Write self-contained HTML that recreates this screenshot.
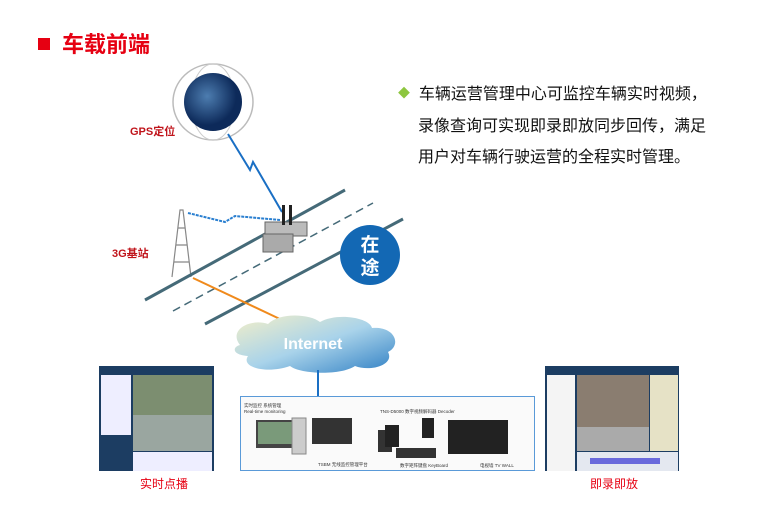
<!DOCTYPE html>
<html><head><meta charset="utf-8"><style>
body{margin:0;width:763px;height:513px;background:#fff;position:relative;overflow:hidden;font-family:"Liberation Sans","Noto Sans CJK SC",sans-serif}
.a{position:absolute}
</style></head><body>
<div class="a" style="left:38px;top:38px;width:12px;height:12px;background:#e60012"></div>
<div class="a" style="left:62px;top:30px;font-size:22px;font-weight:bold;color:#e60012;line-height:30px">车载前端</div>
<div class="a" style="left:398px;top:79px;color:#111;font-size:16px;line-height:31px">
<div><span style="color:#8dc63f;font-size:12px;position:relative;top:-2px">◆</span>&nbsp; 车辆运营管理中心可监控车辆实时视频，</div>
<div style="padding-left:20px">录像查询可实现即录即放同步回传，满足</div>
<div style="padding-left:20px">用户对车辆行驶运营的全程实时管理。</div>
</div>
<svg class="a" style="left:0;top:0" width="763" height="513">
<defs><radialGradient id="g" cx="40%" cy="40%"><stop offset="0" stop-color="#4d7db0"/><stop offset="1" stop-color="#0d2a5a"/></radialGradient>
<linearGradient id="c" x1="0" y1="0" x2="1" y2="1"><stop offset="0" stop-color="#f3efc8"/><stop offset=".5" stop-color="#a9d3ea"/><stop offset="1" stop-color="#2f7fc4"/></linearGradient></defs>
<ellipse cx="213" cy="102" rx="40" ry="38" fill="none" stroke="#bbb" stroke-width="1.5"/>
<ellipse cx="213" cy="102" rx="22" ry="38" fill="none" stroke="#ccc"/>
<circle cx="213" cy="102" r="29" fill="url(#g)"/>
<polyline points="228,134 250,170 253,162 282,212" fill="none" stroke="#1a6fc4" stroke-width="2"/>
<polyline points="188,213 225,222 235,216 280,220" fill="none" stroke="#2a7fd0" stroke-width="2" stroke-dasharray="3,1"/>
<g stroke="#888" fill="none" stroke-width="1.2"><path d="M172,277 L180,210 L183,210 L191,277 M174,262 L189,262 M176,245 L187,245 M178,228 L185,228"/></g>
<line x1="145" y1="300" x2="345" y2="190" stroke="#456a78" stroke-width="3"/>
<line x1="173" y1="311" x2="373" y2="203" stroke="#456a78" stroke-width="1.5" stroke-dasharray="8,5"/>
<line x1="205" y1="324" x2="403" y2="219" stroke="#456a78" stroke-width="3"/>
<line x1="193" y1="278" x2="282" y2="320" stroke="#f08a1c" stroke-width="2"/>
<g><rect x="265" y="222" width="42" height="14" fill="#bbb" stroke="#666"/><rect x="263" y="234" width="30" height="18" fill="#aaa" stroke="#666"/><rect x="282" y="205" width="3" height="20" fill="#222"/><rect x="289" y="205" width="3" height="20" fill="#222"/></g>
<circle cx="370" cy="255" r="30" fill="#1368b4"/>
<text x="370" y="251" fill="#fff" font-size="19" font-weight="bold" text-anchor="middle" font-family="Noto Sans CJK SC">在</text>
<text x="370" y="274" fill="#fff" font-size="19" font-weight="bold" text-anchor="middle" font-family="Noto Sans CJK SC">途</text>
<text x="130" y="135" fill="#c0141b" font-size="11" font-weight="bold" font-family="Liberation Sans,Noto Sans CJK SC">GPS定位</text>
<text x="112" y="257" fill="#c0141b" font-size="11" font-weight="bold" font-family="Liberation Sans,Noto Sans CJK SC">3G基站</text>
<path d="M240,345 C228,330 250,318 268,324 C280,312 310,314 320,322 C338,312 370,318 372,328 C395,326 402,345 388,352 C395,365 370,372 355,366 C340,376 300,374 290,366 C268,374 240,368 248,356 C232,355 232,347 240,345Z" fill="url(#c)"/>
<text x="313" y="349" fill="#fff" font-size="16" font-weight="bold" text-anchor="middle">Internet</text>
<line x1="318" y1="370" x2="318" y2="396" stroke="#1a6fc4" stroke-width="2"/>
<rect x="240.5" y="396.5" width="294" height="74" fill="#fafafa" stroke="#5a9ad8"/>
<rect x="256" y="420" width="38" height="28" fill="#444"/><rect x="258" y="422" width="34" height="22" fill="#7a9a7a"/>
<rect x="292" y="418" width="14" height="36" fill="#ccc" stroke="#888"/>
<rect x="312" y="418" width="40" height="26" fill="#333"/>
<rect x="378" y="430" width="14" height="22" fill="#333"/><rect x="385" y="425" width="14" height="22" fill="#222"/>
<rect x="422" y="418" width="12" height="20" fill="#222"/>
<rect x="396" y="448" width="40" height="10" fill="#333"/>
<rect x="448" y="420" width="60" height="34" fill="#222"/>
<text x="244" y="407" font-size="4.5" fill="#333">实时监控 系统管理</text>
<text x="244" y="413" font-size="4.5" fill="#333">Real-time monitoring</text>
<text x="380" y="413" font-size="4.5" fill="#333">TNS-D5000 数字视频解码器 Decoder</text>
<text x="318" y="466" font-size="4.5" fill="#333">TSBM 无线监控管理平台</text>
<text x="400" y="467" font-size="4.5" fill="#333">数字矩阵键盘 KeyBoard</text>
<text x="480" y="467" font-size="4.5" fill="#333">电视墙 TV WALL</text>
<rect x="99" y="366" width="115" height="105" fill="#1c3d62"/>
<rect x="101" y="375" width="30" height="60" fill="#eef"/>
<rect x="133" y="375" width="79" height="40" fill="#7c8e70"/><rect x="133" y="415" width="79" height="36" fill="#9aa6a0"/>
<rect x="133" y="452" width="79" height="19" fill="#eef"/>
<rect x="545" y="366" width="134" height="105" fill="#1c3d62"/>
<rect x="547" y="375" width="28" height="96" fill="#f4f4f4"/>
<rect x="577" y="375" width="72" height="52" fill="#8a7d70"/><rect x="577" y="427" width="72" height="24" fill="#aaa"/>
<rect x="650" y="375" width="28" height="76" fill="#e6e2c6"/>
<rect x="577" y="452" width="101" height="19" fill="#e4e8f0"/>
<rect x="590" y="458" width="70" height="6" fill="#6a6adc"/>
<text x="164" y="488" fill="#e60012" font-size="12" text-anchor="middle" font-family="Noto Sans CJK SC">实时点播</text>
<text x="614" y="488" fill="#e60012" font-size="12" text-anchor="middle" font-family="Noto Sans CJK SC">即录即放</text>
</svg>
</body></html>
